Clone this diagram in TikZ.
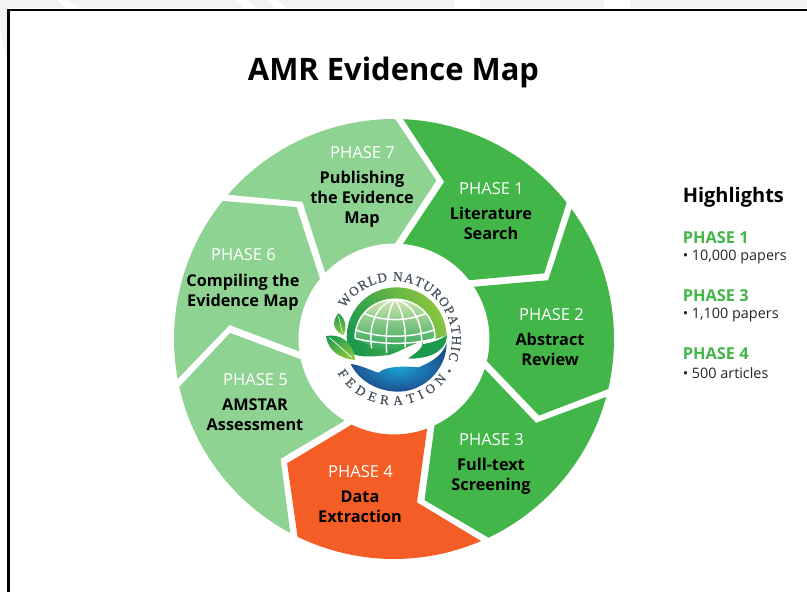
\documentclass[tikz,border=0pt]{standalone}
\usepackage{fontspec}
\setmainfont{Open Sans}
\newfontfamily\logoserif[FakeBold=0.6]{Liberation Serif}
\usetikzlibrary{decorations.text}
\definecolor{dkgreen}{HTML}{43B649}
\definecolor{ltgreen}{HTML}{8FD393}
\definecolor{orng}{HTML}{F45D25}
\definecolor{band}{HTML}{F3F3F3}
\definecolor{logotxt}{HTML}{46535F}
\definecolor{domedark}{HTML}{1B9A4E}
\definecolor{domelime}{HTML}{8CC63F}
\definecolor{globetop}{HTML}{CFE5B0}
\definecolor{globelow}{HTML}{23A04F}
\definecolor{handmid}{HTML}{1AA3D3}
\definecolor{handout}{HTML}{1D4F8F}
\tikzset{
  phasehead/.style={text=white,font=\fontsize{12.4}{15}\selectfont,anchor=center,inner sep=0pt},
  phasename/.style={text=black,font=\fontsize{12.2}{15}\selectfont\bfseries,align=center,anchor=center,inner sep=0pt},
  hlhead/.style={text=dkgreen,font=\fontsize{12.3}{14}\selectfont\bfseries,anchor=west,inner sep=0pt},
  hlitem/.style={text=black!85,font=\fontsize{10.8}{13}\selectfont,anchor=west,inner sep=0pt},
}
\newcommand\phaseseg[2]{%
  \pgfmathsetmacro\aS{#1}%
  \pgfmathsetmacro\aC{#1-64}%
  \pgfmathsetmacro\aH{#1-49.6}%
  \pgfmathsetmacro\aT{#1-3}%
  \pgfmathsetmacro\aN{#1-15.3}%
  \fill[#2] (\aS:220) arc[start angle=\aS,delta angle=-49.3,radius=220]
    -- (\aC:164) -- (\aH:95.5) arc[start angle=\aH,end angle=\aT,radius=95.5]
    -- (\aN:165) -- cycle;}
\begin{document}
\begin{tikzpicture}[x=.75pt,y=.75pt]
\useasboundingbox (0,0) rectangle (807,592);
\fill[white] (0,0) rectangle (807,592);
% top band and frame
\fill[band] (0,592) -- (807,592) -- (807,584) -- (7,584) -- (7,532) -- (0,564) -- cycle;
\fill[white] (57,592) -- (68,592) -- (78,584) -- (65,584) -- cycle;
\fill[white] (237,592) -- (247,592) -- (256,584) -- (245,584) -- cycle;
\fill[white] (267,592) -- (277,592) -- (286,584) -- (275,584) -- cycle;
\fill[white] (454,592) -- (480,592) -- (480,584) -- (454,584) -- cycle;
\fill[white] (604,592) -- (630,592) -- (630,584) -- (604,584) -- cycle;
\draw[black,line width=2.2pt] (8.5,0) -- (8.5,582) -- (807,582);
% wheel
\begin{scope}[shift={(394,253)}]
  \phaseseg{87.6}{dkgreen}
  \phaseseg{36.17}{dkgreen}
  \phaseseg{-15.26}{dkgreen}
  \phaseseg{-66.69}{orng}
  \phaseseg{-118.12}{ltgreen}
  \phaseseg{-169.55}{ltgreen}
  \phaseseg{-220.98}{ltgreen}
  % logo lettering
  \path[decorate,decoration={text along path,text align={fit to path},
     text={|\logoserif\fontsize{10}{11}\selectfont\color{logotxt}|WORLD NATUROPATHIC}}]
     (148:58) arc[start angle=148,end angle=-21,radius=58];
  \path[decorate,decoration={text along path,text align={fit to path},
     text={|\logoserif\fontsize{10}{11}\selectfont\color{logotxt}|FEDERATION}}]
     (211:66) arc[start angle=211,end angle=323,radius=66];
\end{scope}
% logo artwork, in units of a third of a pixel
\begin{scope}[shift={(290,362)},x=.25pt,y=-.25pt]
  \fill[logotxt] (478,423) circle[radius=5];
  % outer green dome
  \shade[left color=domedark,right color=domelime,shading angle=120]
    (170,322) .. controls (170,240) and (235,172) .. (320,172)
    .. controls (405,172) and (470,240) .. (470,322)
    .. controls (468,360) and (420,388) .. (355,385)
    .. controls (385,365) and (402,350) .. (397,335)
    .. controls (370,340) and (330,365) .. (300,375)
    .. controls (260,378) and (220,385) .. (190,372)
    .. controls (178,355) and (170,340) .. (170,322) -- cycle;
  % lower right of the dome stays dark
  \fill[domedark] (470,322) .. controls (468,360) and (420,388) .. (355,385)
    .. controls (385,365) and (402,350) .. (397,335)
    .. controls (425,330) and (450,325) .. (470,315) -- cycle;
  % inner globe
  \shade[top color=globetop,bottom color=globelow]
    (195,325) .. controls (195,258) and (248,208) .. (315,208)
    .. controls (382,208) and (435,258) .. (435,325)
    .. controls (420,330) and (405,333) .. (397,335)
    .. controls (370,340) and (330,365) .. (300,372)
    .. controls (270,360) and (225,340) .. (195,325) -- cycle;
  \begin{scope}[white,line width=1.1pt]
    \draw (195,325) .. controls (195,258) and (248,208) .. (315,208)
      .. controls (382,208) and (435,258) .. (435,325);
    \draw (195,325) .. controls (270,345) and (370,345) .. (435,325);
    \draw (222,250) .. controls (280,275) and (350,275) .. (408,250);
    \draw (197,300) .. controls (270,325) and (360,325) .. (433,300);
    \draw (315,208) .. controls (255,225) and (235,290) .. (245,355);
    \draw (315,208) .. controls (295,235) and (285,300) .. (290,368);
    \draw (315,208) .. controls (335,235) and (350,290) .. (345,352);
    \draw (315,208) .. controls (375,225) and (395,280) .. (395,335);
  \end{scope}
  % white finger
  \fill[white] (397,333) .. controls (425,330) and (450,325) .. (470,315)
    .. controls (450,330) and (425,338) .. (399,342) -- cycle;
  \fill[white] (397,335) .. controls (370,340) and (330,365) .. (300,375)
    .. controls (340,378) and (385,365) .. (397,335) -- cycle;
  % blue hand
  \shade[inner color=handmid,outer color=handout]
    (182,402) .. controls (215,405) and (245,425) .. (300,438)
    .. controls (320,442) and (335,442) .. (345,440)
    .. controls (310,447) and (268,442) .. (266,428)
    .. controls (285,408) and (345,408) .. (385,412)
    .. controls (430,395) and (462,370) .. (470,338)
    .. controls (470,420) and (400,485) .. (325,485)
    .. controls (260,485) and (205,450) .. (182,402) -- cycle;
  % leaves
  \shade[left color=domedark,right color=domelime,shading angle=0]
    (145,250) .. controls (170,265) and (170,300) .. (160,315)
    .. controls (135,305) and (120,280) .. (145,250) -- cycle;
  \shade[left color=domedark,right color=domelime,shading angle=20]
    (108,318) .. controls (150,310) and (190,335) .. (195,390)
    .. controls (150,385) and (115,365) .. (108,318) -- cycle;
  \draw[white,line width=.5pt] (118,323) .. controls (145,345) and (165,365) .. (185,382);
  \draw[white,line width=.4pt] (145,258) .. controls (150,275) and (153,295) .. (158,310);
\end{scope}
% title
\node[font=\fontsize{23.2}{28}\selectfont\bfseries,text=black,inner sep=0pt] (title) at (393.5,520) {AMR Evidence Map};
% phases
\node[phasehead] (h1) at (491.5,403) {PHASE 1};
\node[phasename] (n1) at (491,369) {Literature\\Search};
\node[phasehead] (h2) at (551.5,277) {PHASE 2};
\node[phasename] (n2) at (550,243) {Abstract\\Review};
\node[phasehead] (h3) at (491.5,152) {PHASE 3};
\node[phasename] (n3) at (491,116) {Full-text\\Screening};
\node[phasehead] (h4) at (360.5,120) {PHASE 4};
\node[phasename] (n4) at (360,85) {Data\\Extraction};
\node[phasehead] (h5) at (255.5,212) {PHASE 5};
\node[phasename] (n5) at (255,177.5) {AMSTAR\\Assessment};
\node[phasehead] (h6) at (243.5,337) {PHASE 6};
\node[phasename] (n6) at (243,299.5) {Compiling the\\Evidence Map};
\node[phasehead] (h7) at (362.5,439) {PHASE 7};
\node[phasename] (n7) at (362,393) {Publishing\\the Evidence\\Map};
% highlights
\node[anchor=west,inner sep=0pt,font=\fontsize{15}{18}\selectfont\bfseries] (hl) at (682.5,395) {Highlights};
\node[hlhead] (a1) at (682.5,354) {PHASE 1};
\node[hlitem] (b1) at (682.5,335) {• 10,000 papers};
\node[hlhead] (a3) at (682.5,296) {PHASE 3};
\node[hlitem] (b3) at (682.5,277) {• 1,100 papers};
\node[hlhead] (a4) at (682.5,238) {PHASE 4};
\node[hlitem] (b4) at (682.5,219) {• 500 articles};
\end{tikzpicture}
\end{document}
